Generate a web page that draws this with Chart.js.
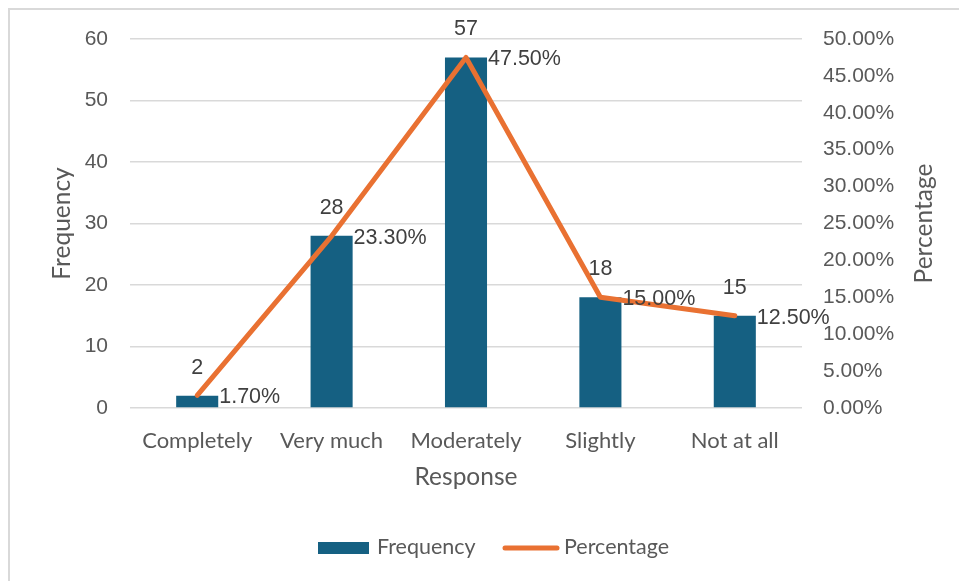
<!DOCTYPE html>
<html>
<head>
<meta charset="utf-8">
<script src="https://cdn.jsdelivr.net/npm/chart.js@4.4.1/dist/chart.umd.min.js"></script>
<style>
  html, body { margin: 0; padding: 0; background: #ffffff; }
  canvas { display: block; }
</style>
</head>
<body>
<canvas id="c" width="959" height="581"></canvas>
<script>
// Survey responses: counts and their share of all answers
const categories = ['Completely', 'Very much', 'Moderately', 'Slightly', 'Not at all'];
const frequency = [2, 28, 57, 18, 15];
const percentage = [1.7, 23.3, 47.5, 15.0, 12.5];
const freqTicks = { min: 0, max: 60, step: 10 };
const pctTicks = { min: 0, max: 50, step: 5 };

const BLUE = '#156082';
const ORANGE = '#E97132';
const GRID = '#d9d9d9';
const TICK_COLOR = '#595959';
const LABEL_COLOR = '#404040';
const NUM_FONT = '"Liberation Sans", Arial, sans-serif';
const TEXT_FONT = 'Lato, "Open Sans", sans-serif';

const overlay = {
  id: 'overlay',
  beforeDraw(chart) {
    const ctx = chart.ctx;
    ctx.save();
    ctx.fillStyle = '#ffffff';
    ctx.fillRect(0, 0, chart.width, chart.height);
    // frame (top and left edges)
    ctx.strokeStyle = GRID;
    ctx.lineWidth = 2;
    ctx.beginPath();
    ctx.moveTo(9, chart.height);
    ctx.lineTo(9, 9);
    ctx.lineTo(chart.width, 9);
    ctx.stroke();
    ctx.restore();
  },
  afterDatasetsDraw(chart) {
    const ctx = chart.ctx;
    ctx.save();
    ctx.font = '21.5px ' + NUM_FONT;
    ctx.fillStyle = LABEL_COLOR;
    // bar values above each bar
    const bars = chart.getDatasetMeta(0).data;
    ctx.textAlign = 'center';
    ctx.textBaseline = 'middle';
    bars.forEach((el, i) => {
      ctx.fillText(String(frequency[i]), el.x, el.y - 28);
    });
    // percentage values to the right of each line point
    const pts = chart.getDatasetMeta(1).data;
    ctx.textAlign = 'left';
    pts.forEach((el, i) => {
      ctx.fillText(percentage[i].toFixed(2) + '%', el.x + 22, el.y + 2);
    });
    ctx.restore();
  },
  afterDraw(chart) {
    const ctx = chart.ctx;
    const a = chart.chartArea;
    ctx.save();
    ctx.fillStyle = TICK_COLOR;
    // axis titles
    ctx.font = '24.5px ' + TEXT_FONT;
    ctx.textAlign = 'center';
    ctx.textBaseline = 'middle';
    ctx.fillText('Response', (a.left + a.right) / 2, 477);
    const midY = (a.top + a.bottom) / 2;
    ctx.save();
    ctx.translate(62, midY);
    ctx.rotate(-Math.PI / 2);
    ctx.fillText('Frequency', 0, 0);
    ctx.restore();
    ctx.save();
    ctx.translate(924, midY);
    ctx.rotate(-Math.PI / 2);
    ctx.fillText('Percentage', 0, 0);
    ctx.restore();

    // legend
    const ds = chart.data.datasets;
    ctx.font = '21.5px ' + TEXT_FONT;
    ctx.textAlign = 'left';
    ctx.fillStyle = ds[0].backgroundColor;
    ctx.fillRect(318, 542, 51, 12);
    ctx.fillStyle = TICK_COLOR;
    ctx.fillText(ds[0].label, 377, 547);
    ctx.strokeStyle = ds[1].borderColor;
    ctx.lineWidth = 5;
    ctx.lineCap = 'round';
    ctx.beginPath();
    ctx.moveTo(505, 548);
    ctx.lineTo(557, 548);
    ctx.stroke();
    ctx.fillText(ds[1].label, 564, 547);
    ctx.restore();
  }
};

new Chart(document.getElementById('c'), {
  data: {
    labels: categories,
    datasets: [
      {
        type: 'bar',
        label: 'Frequency',
        data: frequency,
        backgroundColor: BLUE,
        yAxisID: 'y',
        categoryPercentage: 1,
        barPercentage: 0.313,
        order: 1
      },
      {
        type: 'line',
        label: 'Percentage',
        data: percentage,
        borderColor: ORANGE,
        backgroundColor: ORANGE,
        borderWidth: 5,
        borderCapStyle: 'round',
        borderJoinStyle: 'round',
        pointRadius: 0,
        tension: 0,
        yAxisID: 'y1',
        order: 0
      }
    ]
  },
  options: {
    responsive: false,
    animation: false,
    devicePixelRatio: 1,
    layout: { padding: { top: 39, left: 0, right: 0, bottom: 0 } },
    plugins: {
      legend: { display: false },
      tooltip: { enabled: false }
    },
    scales: {
      x: {
        grid: { display: false },
        border: { display: false },
        ticks: {
          color: TICK_COLOR,
          font: { family: TEXT_FONT, size: 22 },
          padding: 12,
          maxRotation: 0
        },
        afterFit(scale) { scale.height = 173; }
      },
      y: {
        position: 'left',
        min: freqTicks.min,
        max: freqTicks.max,
        grid: { color: GRID, lineWidth: 1.5, drawTicks: false },
        border: { display: false },
        ticks: {
          stepSize: freqTicks.step,
          color: TICK_COLOR,
          font: { family: NUM_FONT, size: 21 },
          padding: 22
        },
        afterFit(scale) { scale.width = 130; }
      },
      y1: {
        position: 'right',
        min: pctTicks.min,
        max: pctTicks.max,
        grid: { display: false, drawTicks: false },
        border: { display: false },
        ticks: {
          stepSize: pctTicks.step,
          color: TICK_COLOR,
          font: { family: NUM_FONT, size: 21 },
          padding: 21,
          callback: v => Number(v).toFixed(2) + '%'
        },
        afterFit(scale) { scale.width = 157; }
      }
    }
  },
  plugins: [overlay]
});
</script>
</body>
</html>
